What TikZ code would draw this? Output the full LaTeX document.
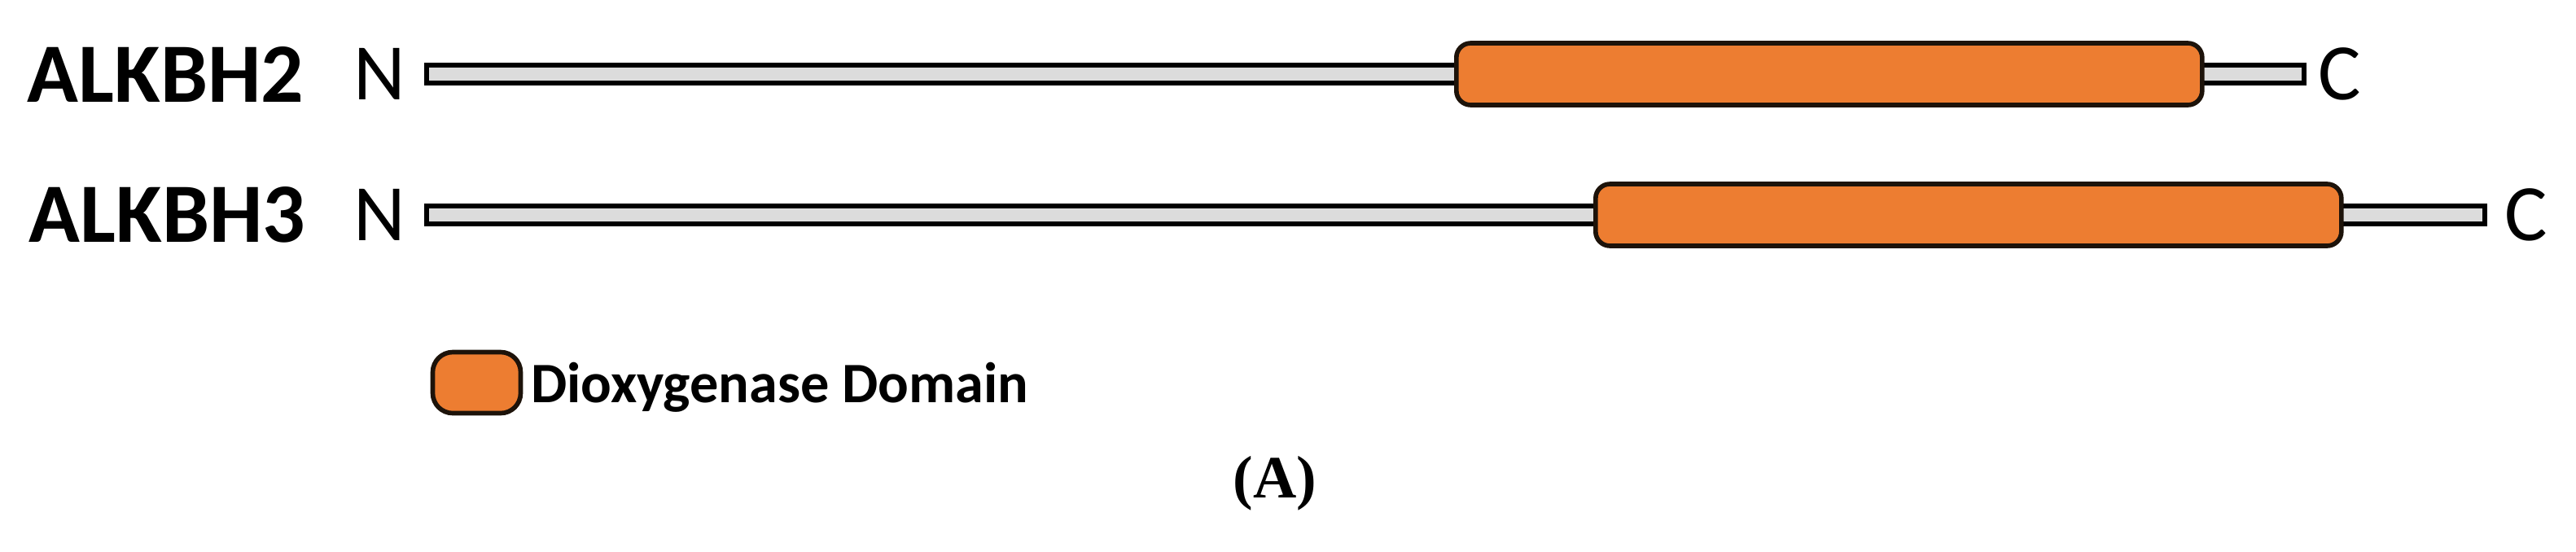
\documentclass[tikz,border=0pt]{standalone}
\usepackage{fontspec}
\setmainfont{Carlito}
\newfontfamily\capfont{Liberation Serif}
\usepackage{tikz}
\usetikzlibrary{positioning}
\definecolor{domorange}{HTML}{ED7D31}
\definecolor{chaingray}{HTML}{DCDCDC}
\tikzset{
    protname/.style={anchor=west, inner sep=0pt, font=\fontsize{29.5}{32}\selectfont\bfseries},
    term/.style={inner sep=0pt, font=\fontsize{28}{30}\selectfont},
    chainbar/.style={rectangle, anchor=west, inner sep=0pt, minimum height=0.22cm, draw=black, line width=1.8pt, fill=chaingray},
    dombox/.style={rectangle, anchor=west, inner sep=0pt, rounded corners=5pt, minimum height=0.76cm, draw=black!85!brown, line width=1.6pt, fill=domorange},
    keytext/.style={inner sep=0pt, text depth=0pt, font=\fontsize{20}{24}\selectfont\bfseries},
}

\begin{document}
\begin{tikzpicture}
  \useasboundingbox (0,0) rectangle (31.64,6.77);

  % ALKBH2
  \node[protname] (p2) at (0.33,5.86) {ALKBH2};
  \node[chainbar, minimum width=23.06cm] (bar2) at (5.21,5.86) {};
  \node[dombox, minimum width=9.16cm] (dom2) at (17.86,5.86) {};
  \node[term, left=0.22cm of bar2] (n2) {N};
  \node[term, right=0.13cm of bar2] (c2) {C};

  % ALKBH3
  \node[protname] (p3) at (0.35,4.13) {ALKBH3};
  \node[chainbar, minimum width=25.28cm] (bar3) at (5.21,4.13) {};
  \node[dombox, minimum width=9.16cm] (dom3) at (19.57,4.13) {};
  \node[term, left=0.22cm of bar3] (n3) {N};
  \node[term, right=0.2cm of bar3] (c3) {C};

  % legend
  \node[dombox, anchor=center, minimum width=1.08cm, minimum height=0.75cm, rounded corners=7pt] (key) at (5.855,2.07) {};
  \node[keytext, right=0.09cm of key] (keylabel) {Dioxygenase Domain};

  \node[font=\capfont\bfseries\fontsize{21}{24}\selectfont, inner sep=0pt] (panel) at (15.66,0.83) {(A)};
\end{tikzpicture}
\end{document}
